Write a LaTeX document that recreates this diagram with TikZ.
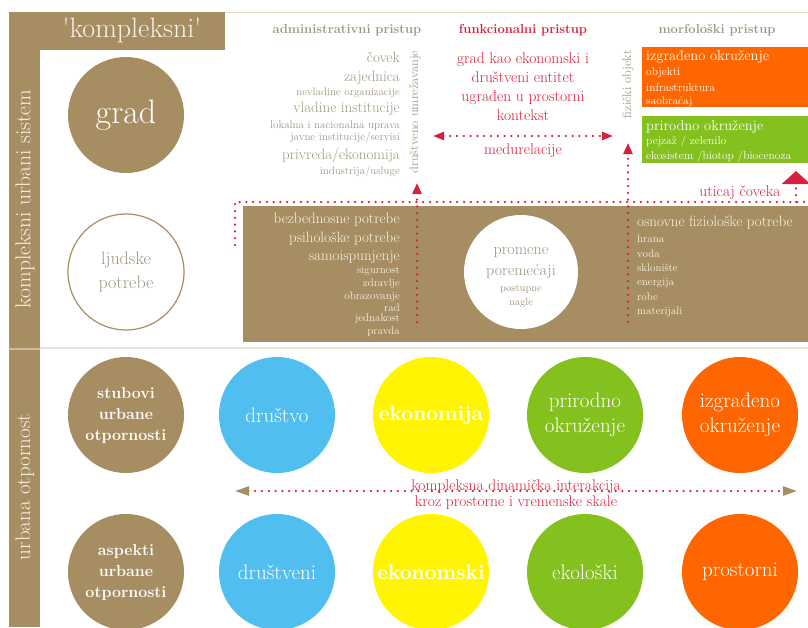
\documentclass[tikz,border=0pt]{standalone}
\usepackage{tikz}
\usetikzlibrary{arrows.meta}
\definecolor{tanc}{RGB}{166,141,98}
\definecolor{creamc}{RGB}{248,243,230}
\definecolor{grayc}{RGB}{160,150,128}
\definecolor{redc}{RGB}{214,32,60}
\definecolor{orangec}{RGB}{255,102,0}
\definecolor{greenc}{RGB}{132,192,30}
\definecolor{bluec}{RGB}{80,190,238}
\definecolor{yellowc}{RGB}{255,245,0}
\definecolor{linec}{RGB}{222,216,200}
\newcommand{\fsz}[1]{\fontsize{#1}{#1}\selectfont}
\newcommand{\fszl}[2]{\fontsize{#1}{#2}\selectfont}

\begin{document}
\begin{tikzpicture}[x=1pt,y=-1pt,
  txt/.style={inner sep=0pt},
  head/.style={txt, font=\fsz{13}\bfseries},
  big/.style={txt, font=\fsz{15}},
  small/.style={txt, font=\fsz{11}},
  circ/.style={circle, minimum size=116pt, inner sep=0pt, align=center},
  reddot/.style={draw=redc, line width=2.5pt, line cap=round, dash pattern=on 0pt off 6.8pt},
  redtip/.style={-{Triangle[length=11pt,width=9pt]}}]
  \useasboundingbox (0,0) rectangle (808,627);
  \clip (0,0) rectangle (808,627);

  %% frame
  \fill[tanc] (9,12) rectangle (40,627);
  \fill[tanc] (40,12) rectangle (225,50);
  \draw[linec, line width=1pt] (225,12) -- (808,12);
  \draw[linec!70, line width=2pt] (40,348) -- (808,348);
  \draw[tanc!60, line width=2pt] (9,349) -- (40,349);
  \node[txt, text=creamc, font=\fsz{28}] (komp) at (132,30) {\textquotesingle kompleksni\textquotesingle};
  \node[txt, text=creamc, font=\fsz{21.5}, rotate=90] (sistem) at (25,199) {kompleksni urbani sistem};
  \node[txt, text=creamc, font=\fsz{21}, rotate=90] (otpor) at (25,487) {urbana otpornost};

  %% left circles
  \node[circ, fill=tanc, text=white, font=\fsz{34}] (grad) at (126,115) {grad};
  \node[circ, draw=tanc, line width=1.2pt, text=grayc, font=\fszl{18}{24}] (ljud) at (126,272) {ljudske\\potrebe};

  %% headers
  \node[head, text=grayc] (adm) at (347,30) {administrativni pristup};
  \node[head, text=redc] (fun) at (523,30) {funkcionalni pristup};
  \node[head, text=grayc] (mor) at (717,30) {morfološki pristup};

  %% administrativni
  \node[big, text=grayc, anchor=east] (a1) at (400,57) {čovek};
  \node[big, text=grayc, anchor=east] (a2) at (400,78) {zajednica};
  \node[small, text=grayc, anchor=east] (a3) at (400,93) {nevladine organizacije};
  \node[big, text=grayc, anchor=east] (a4) at (400,109) {vladine institucije};
  \node[small, text=grayc, anchor=east] (a5) at (400,126) {lokalna i nacionalna uprava};
  \node[small, text=grayc, anchor=east] (a6) at (400,138) {javne institucije/servisi};
  \node[big, text=grayc, anchor=east] (a7) at (400,156) {privreda/ekonomija};
  \node[small, text=grayc, anchor=east] (a8) at (400,172) {industrija/usluge};
  \node[txt, text=grayc, font=\fsz{12.5}, rotate=90] (umrez) at (415,112) {društveno umrežavanje};

  %% funkcionalni
  \node[txt, text=redc, align=center, font=\fszl{15.5}{19}] (fdesc) at (523,87)
    {grad kao ekonomski i\\društveni entitet\\ugrađen u prostorni\\kontekst};
  \node[txt, text=redc, font=\fsz{15.5}] (medu) at (523,151) {medurelacije};
  \coordinate (mL) at (433,136);
  \coordinate (mR) at (613,136);
  \draw[reddot, {Triangle[length=11pt,width=8pt]}-{Triangle[length=11pt,width=8pt]}] (mL) -- (mR);

  %% morfoloski
  \node[txt, text=grayc, font=\fsz{12.5}, rotate=90] (fiz) at (628,84) {fizički objekt};
  \fill[orangec] (642,47) rectangle (808,107);
  \node[txt, text=white, font=\fsz{14.5}, anchor=west] (o1) at (646,57) {izgrađeno okruženje};
  \node[txt, text=white, font=\fsz{11.5}, anchor=west] (o2) at (646,73) {objekti};
  \node[txt, text=white, font=\fsz{11.5}, anchor=west] (o3) at (646,88) {infrastruktura};
  \node[txt, text=white, font=\fsz{11.5}, anchor=west] (o4) at (646,102) {saobraćaj};
  \fill[greenc] (642,116) rectangle (808,163);
  \node[txt, text=white, font=\fsz{14.5}, anchor=west] (g1) at (646,127) {prirodno okruženje};
  \node[txt, text=white, font=\fsz{11.5}, anchor=west] (g2) at (646,142) {pejzaž / zelenilo};
  \node[txt, text=white, font=\fsz{11.5}, anchor=west] (g3) at (646,157) {ekosistem /biotop /biocenoza};

  %% potrebe
  \fill[tanc] (243,206) rectangle (808,342);
  \node[big, text=creamc, anchor=east] (p1) at (400,220) {bezbednosne potrebe};
  \node[big, text=creamc, anchor=east] (p2) at (400,239) {psihološke potrebe};
  \node[big, text=creamc, anchor=east] (p3) at (400,257) {samoispunjenje};
  \node[small, text=creamc, anchor=east] (p4) at (400,271) {sigurnost};
  \node[small, text=creamc, anchor=east] (p5) at (400,284) {zdravlje};
  \node[small, text=creamc, anchor=east] (p6) at (400,297) {obrazovanje};
  \node[small, text=creamc, anchor=east] (p7) at (400,308) {rad};
  \node[small, text=creamc, anchor=east] (p8) at (400,319) {jednakost};
  \node[small, text=creamc, anchor=east] (p9) at (400,332) {pravda};
  \node[circ, fill=white, minimum size=114pt] (prom) at (521,272) {};
  \node[txt, text=grayc, font=\fsz{16}] (pr1) at (521,253) {promene};
  \node[txt, text=grayc, font=\fsz{16}] (pr2) at (521,272) {poremećaji};
  \node[txt, text=grayc, font=\fsz{10.5}] (pr3) at (521,289) {postupne};
  \node[txt, text=grayc, font=\fsz{10.5}] (pr4) at (521,303) {nagle};
  \node[big, text=creamc, anchor=west] (f1) at (637,223) {osnovne fiziološke potrebe};
  \node[small, text=creamc, anchor=west] (f2) at (637,239) {hrana};
  \node[small, text=creamc, anchor=west] (f3) at (637,254) {voda};
  \node[small, text=creamc, anchor=west] (f4) at (637,268) {sklonište};
  \node[small, text=creamc, anchor=west] (f5) at (637,283) {energija};
  \node[small, text=creamc, anchor=west] (f6) at (637,297) {robe};
  \node[small, text=creamc, anchor=west] (f7) at (637,312) {materijali};

  %% dotted links
  \coordinate (dl) at (235,245);
  \coordinate (dc) at (235,202);
  \coordinate (dr) at (808,202);
  \draw[reddot] (dl) -- (dc) -- (dr);
  \coordinate (v1b) at (417,322);
  \coordinate (v1t) at (417,183);
  \draw[reddot, redtip] (v1b) -- (v1t);
  \coordinate (v2b) at (628,322);
  \coordinate (v2t) at (628,143);
  \draw[reddot, redtip] (v2b) -- (v2t);
  \coordinate (ub) at (796,202);
  \coordinate (ut) at (796,171);
  \draw[reddot, -{Triangle[length=13pt,width=28pt]}] (ub) -- (ut);
  \node[txt, text=redc, font=\fsz{15.5}] (utic) at (740,193) {uticaj čoveka};

  %% urbana otpornost
  \node[circ, fill=tanc, text=white, font=\fszl{16}{21}\bfseries] (stub) at (126,415) {stubovi\\urbane\\otpornosti};
  \node[circ, fill=bluec, text=white, font=\fsz{21}] (drs) at (277,415) {društvo};
  \node[circ, fill=yellowc, text=white, font=\fsz{21}\bfseries] (eko) at (431,415) {ekonomija};
  \node[circ, fill=greenc, text=white, font=\fszl{21}{25}] (pri) at (585,415) {prirodno\\okruženje};
  \node[circ, fill=orangec, text=white, font=\fszl{21}{25}] (izg) at (740,415) {izgrađeno\\okruženje};

  \node[circ, fill=tanc, text=white, font=\fszl{16}{21}\bfseries] (asp) at (126,572) {aspekti\\urbane\\otpornosti};
  \node[circ, fill=bluec, text=white, font=\fsz{21}] (drv) at (277,572) {društveni};
  \node[circ, fill=yellowc, text=white, font=\fsz{21}\bfseries] (eks) at (431,572) {ekonomski};
  \node[circ, fill=greenc, text=white, font=\fsz{21}] (ekl) at (585,572) {ekološki};
  \node[circ, fill=orangec, text=white, font=\fsz{21}] (pro) at (740,572) {prostorni};

  \coordinate (iL) at (235,491);
  \coordinate (iR) at (797,491);
  \draw[reddot, {Triangle[length=14pt,width=9pt,color=tanc,fill=tanc]}-{Triangle[length=14pt,width=9pt,color=tanc,fill=tanc]}] (iL) -- (iR);
  \node[txt, text=redc, font=\fsz{15.5}] (int1) at (516,487) {kompleksna dinamička interakcija};
  \node[txt, text=redc, font=\fsz{15.5}] (int2) at (516,503) {kroz prostorne i vremenske skale};
\end{tikzpicture}
\end{document}
